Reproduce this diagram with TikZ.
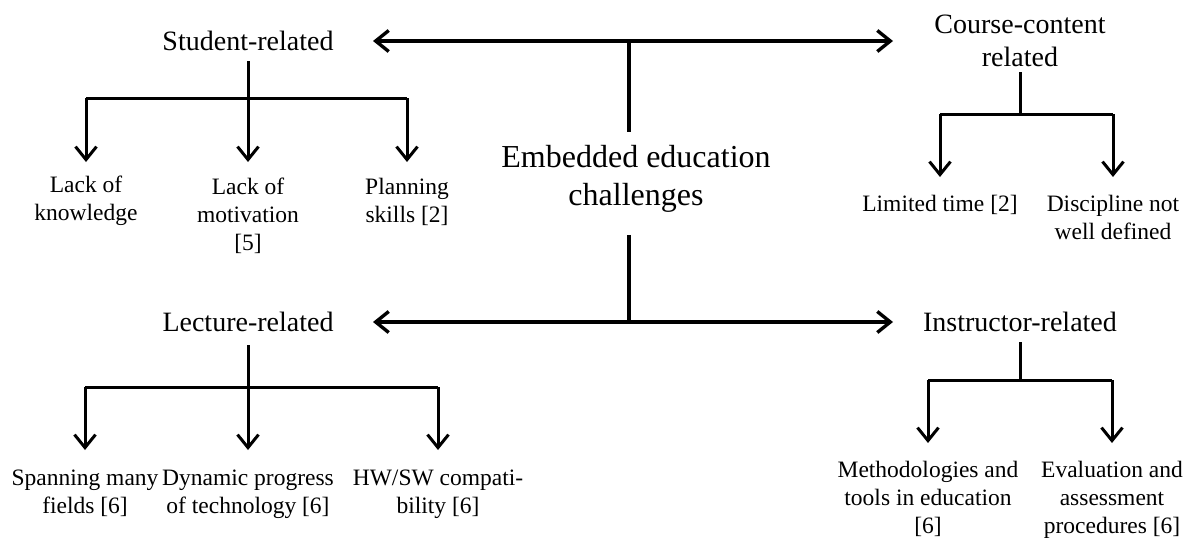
\documentclass[tikz,border=0pt]{standalone}
\usepackage{fontspec}
\setmainfont{Liberation Serif}
\usetikzlibrary{arrows.meta}
\tikzset{
  mainln/.style={line width=3.4pt},
  brln/.style={line width=3pt},
  tipped/.style={-{Straight Barb[length=13pt,width=21pt]}},
  headst/.style={font=\fontsize{28}{33}\selectfont, inner sep=0pt, align=center},
  leafst/.style={font=\fontsize{23.5}{28}\selectfont, inner sep=0pt, align=center, anchor=north},
  rootst/.style={font=\fontsize{32}{38}\selectfont, inner sep=0pt, align=center}
}
\begin{document}
\begin{tikzpicture}[x=1pt,y=-1pt]
\useasboundingbox (0,0) rectangle (1187,538);

% main nodes
\node[rootst] (root) at (636,179) {Embedded education\\challenges};
\node[headst] (stu) at (248,41) {Student-related};
\node[headst] (cc)  at (1020,41) {Course-content\\related};
\node[headst] (lec) at (248,322) {Lecture-related};
\node[headst] (ins) at (1020,322) {Instructor-related};

% leaves
\node[leafst] (k1) at (86,176) {Lack of\\knowledge};
\node[leafst] (k2) at (248,178) {Lack of\\motivation\\{[5]}};
\node[leafst] (k3) at (407,178) {Planning\\skills [2]};

\node[leafst] (c1) at (940,195) {Limited time [2]};
\node[leafst] (c2) at (1113,195) {Discipline not\\well defined};

\node[leafst] (l1) at (85,470) {Spanning many\\fields [6]};
\node[leafst] (l2) at (248,470) {Dynamic progress\\of technology [6]};
\node[leafst] (l3) at (438,470) {HW/SW compati-\\bility [6]};

\node[leafst] (i1) at (928,461) {Methodologies and\\tools in education\\{[6]}};
\node[leafst] (i2) at (1112,461) {Evaluation and\\assessment\\procedures [6]};

% junctions
\coordinate (tj) at (629,41);
\coordinate (bj) at (629,322);
\coordinate (sb) at (248,98);
\coordinate (cb) at (1020,114);
\coordinate (lb) at (248,387);
\coordinate (ib) at (1020,380);

% central connectors
\draw[mainln, shorten >=13pt] (tj) -- (root.north -| tj);
\draw[mainln, shorten <=22pt] (root.south -| bj) -- (bj);
\draw[mainln, tipped, shorten >=125pt] (tj) -- (stu.center);
\draw[mainln, tipped, shorten >=127pt] (tj) -- (cc.center);
\draw[mainln, tipped, shorten >=125pt] (bj) -- (lec.center);
\draw[mainln, tipped, shorten >=127pt] (bj) -- (ins.center);

% student branch
\draw[brln, shorten <=10pt] (stu.south) -- (sb);
\draw[brln] (sb -| k1.north) -- (sb -| k3.north);
\draw[brln, tipped, shorten >=14pt] (sb -| k1.north) -- (k1.north);
\draw[brln, tipped, shorten >=16pt] (sb) -- (k2.north);
\draw[brln, tipped, shorten >=16pt] (sb -| k3.north) -- (k3.north);

% course branch
\draw[brln, shorten <=5pt] (cc.south) -- (cb);
\draw[brln] (cb -| c1.north) -- (cb -| c2.north);
\draw[brln, tipped, shorten >=18pt] (cb -| c1.north) -- (c1.north);
\draw[brln, tipped, shorten >=18pt] (cb -| c2.north) -- (c2.north);

% lecture branch
\draw[brln, shorten <=13pt] (lec.south) -- (lb);
\draw[brln] (lb -| l1.north) -- (lb -| l3.north);
\draw[brln, tipped, shorten >=20pt] (lb -| l1.north) -- (l1.north);
\draw[brln, tipped, shorten >=20pt] (lb) -- (l2.north);
\draw[brln, tipped, shorten >=20pt] (lb -| l3.north) -- (l3.north);

% instructor branch
\draw[brln, shorten <=10pt] (ins.south) -- (ib);
\draw[brln] (ib -| i1.north) -- (ib -| i2.north);
\draw[brln, tipped, shorten >=18pt] (ib -| i1.north) -- (i1.north);
\draw[brln, tipped, shorten >=18pt] (ib -| i2.north) -- (i2.north);
\end{tikzpicture}
\end{document}
